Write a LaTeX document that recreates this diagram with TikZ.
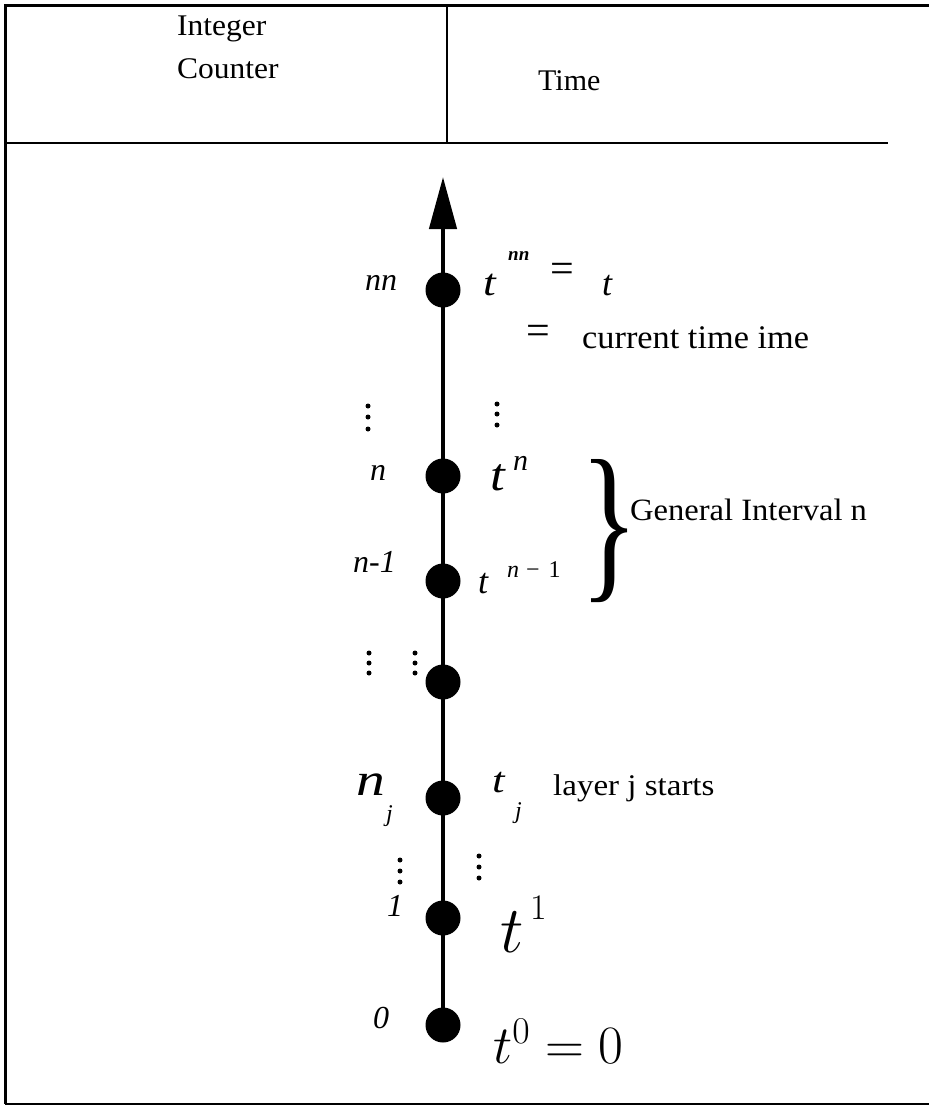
\RequirePackage{fix-cm}
\documentclass[tikz,border=0pt]{standalone}
\usepackage[no-math]{fontspec}
\setmainfont{Liberation Serif}
\usetikzlibrary{arrows.meta}
\newcommand{\fsz}[1]{\fontsize{#1}{#1}\selectfont}
\newcommand{\sx}[2]{\scalebox{#1}[1]{#2}}
\begin{document}
\begin{tikzpicture}[x=1pt,y=-1pt,
  frame/.style={line width=3pt},
  rule/.style={line width=2pt},
  lab/.style={inner sep=0pt, anchor=base west},
  ctr/.style={inner sep=0pt, anchor=center},
  evt/.style={circle, fill=black, minimum size=35pt, inner sep=0pt},
  vd/.style={circle, fill=black, minimum size=5pt, inner sep=0pt},
  axis/.style={line width=4.5pt, -{Triangle[width=27pt,length=52pt]}}]
\useasboundingbox (0,0) rectangle (929,1106);
% table frame
\draw[frame] (929,5) -- (5,5) -- (5,1104);
\draw[line width=2.5pt] (5,1104) -- (929,1104);
\draw[rule] (5,143) -- (888,143);
\draw[rule] (447,5) -- (447,143);
% header
\node[lab] (hint) at (177,35) {\fsz{30}\sx{1.05}{Integer}};
\node[lab] (hcnt) at (177,78) {\fsz{30}\sx{1.05}{Counter}};
\node[lab] (htime) at (538,90) {\fsz{30}Time};
% event dots
\node[evt] (dnn) at (443,290) {};
\node[evt] (dn) at (443,476) {};
\node[evt] (dn1) at (443,581) {};
\node[evt] (ddd) at (443,682) {};
\node[evt] (dj) at (443,798) {};
\node[evt] (d1) at (443,918) {};
\node[evt] (d0) at (443,1025) {};
\coordinate (tip) at (443,177);
\draw[axis] (d0.center) -- (tip);
% nn row
\node[lab] (lnn) at (365,290) {\fsz{32}\textit{nn}};
\node[lab] (tnn) at (483,295) {\fsz{38}\sx{1.2}{\textit{t}}};
\node[lab] (snn) at (508,260) {\fsz{19}\textbf{\textit{nn}}};
\node[ctr] (eqa) at (562,273) {\fsz{42}=};
\node[lab] (tt) at (602,295) {\fsz{36}\textit{t}};
\node[ctr] (eqb) at (538,335) {\fsz{42}=};
\node[lab] (cur) at (582,348) {\fsz{33}\sx{1.04}{current time ime}};
% vertical dots
\foreach \i/\y in {1/406,2/417,3/429} \node[vd] (va\i) at (368,\y) {};
\foreach \i/\y in {1/404,2/414,3/425} \node[vd] (vb\i) at (497,\y) {};
% n row
\node[lab] (ln) at (370,480) {\fsz{32}\textit{n}};
\node[lab] (tn) at (490,490) {\fsz{46}\sx{1.15}{\textit{t}}};
\node[lab] (sn) at (513,470) {\fsz{30}\textit{n}};
% n-1 row
\node[lab] (ln1) at (353,572) {\fsz{32}\textit{n-1}};
\node[lab] (tn1) at (478,593) {\fsz{36}\textit{t}};
\node[lab] (sn1) at (507,577) {\fsz{24}\textit{n}\hspace{7pt}−\hspace{9pt}1};
% brace
\node[ctr] (brace) at (610,531) {\resizebox*{58pt}{143pt}{\}}};
\node[lab] (gen) at (630,520) {\fsz{31}\sx{1.05}{General Interval n}};
% dots row
\foreach \i/\y in {1/653,2/663,3/673} \node[vd] (vc\i) at (369,\y) {};
\foreach \i/\y in {1/653,2/663,3/673} \node[vd] (vd\i) at (415,\y) {};
% n_j row
\node[lab] (lnj) at (356,795) {\fsz{46}\sx{1.25}{\textit{n}}};
\node[lab] (snj) at (386,821) {\fsz{24}\textit{j}};
\node[lab] (tj) at (492,792) {\fsz{36}\sx{1.25}{\textit{t}}};
\node[lab] (stj) at (515,818) {\fsz{24}\textit{j}};
\node[lab] (layer) at (553,795) {\fsz{30}\sx{1.1}{layer j starts}};
% dots
\foreach \i/\y in {1/860,2/871,3/882} \node[vd] (ve\i) at (400,\y) {};
\foreach \i/\y in {1/856,2/867,3/878} \node[vd] (vf\i) at (479,\y) {};
% 1 row
\node[lab] (l1) at (387,916) {\fsz{32}\textit{1}};
\node[lab] (t1) at (500,952) {\fsz{66}$t$};
\node[lab] (s1) at (530,919) {\fsz{36}$1$};
% 0 row
\node[lab] (l0) at (373,1028) {\fsz{32}\textit{0}};
\node[lab] (t0) at (493,1063) {\fsz{54}$t^0=0$};
\end{tikzpicture}
\end{document}
